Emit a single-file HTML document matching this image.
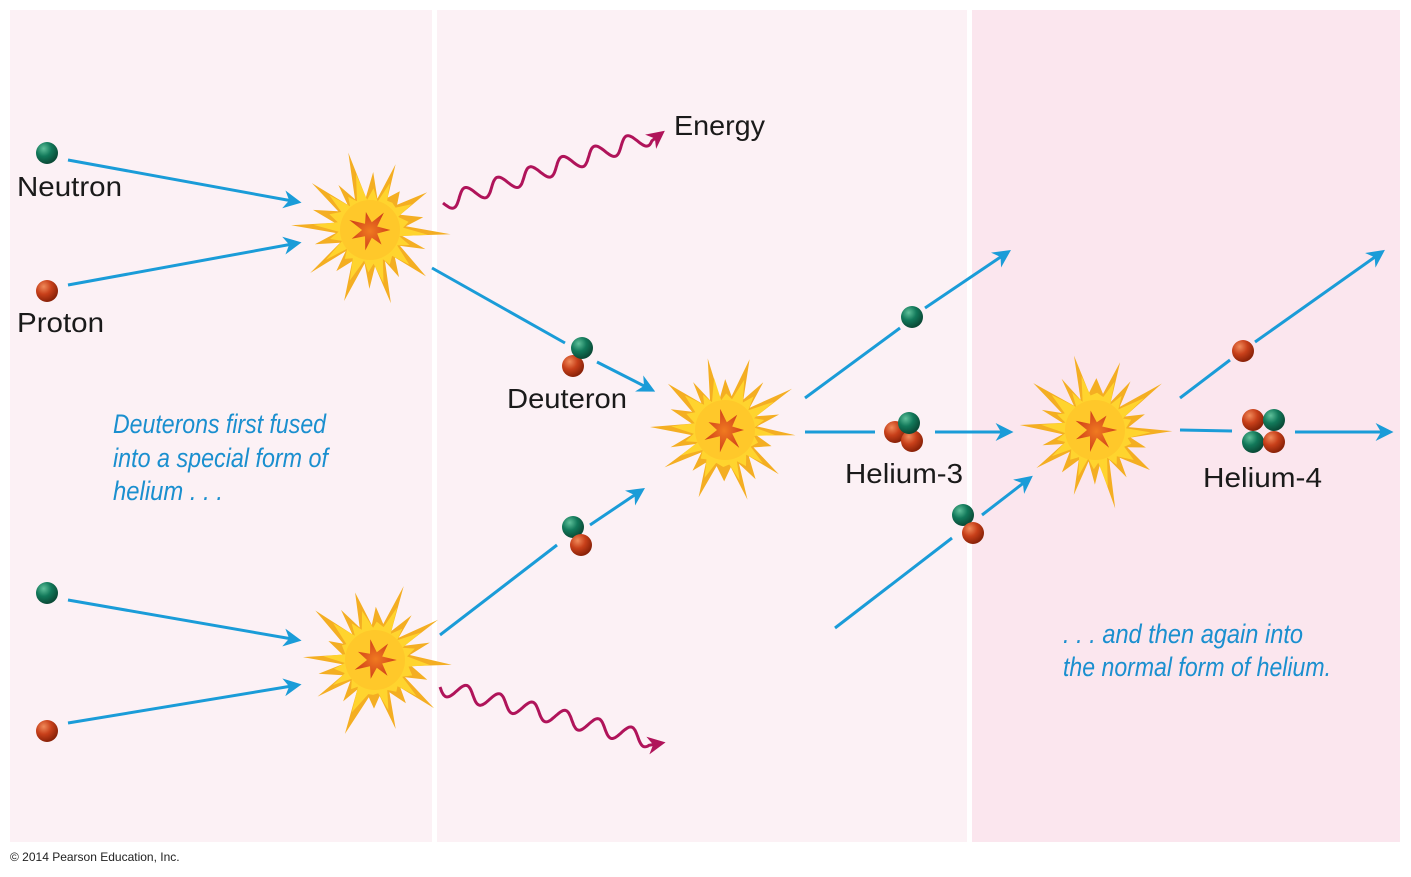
<!DOCTYPE html>
<html><head><meta charset="utf-8"><style>
html,body{margin:0;padding:0;background:#fff}
svg{display:block}
text{font-family:"Liberation Sans",sans-serif}
</style></head><body>
<svg id="s" width="1411" height="877" viewBox="0 0 1411 877" xmlns="http://www.w3.org/2000/svg">
<defs>
<radialGradient id="g" cx="0.35" cy="0.3" r="0.7"><stop offset="0" stop-color="#5fc09a"/><stop offset="0.5" stop-color="#12795a"/><stop offset="1" stop-color="#0a4a36"/></radialGradient>
<radialGradient id="r" cx="0.35" cy="0.3" r="0.7"><stop offset="0" stop-color="#f08a5a"/><stop offset="0.5" stop-color="#c8401a"/><stop offset="1" stop-color="#8a2208"/></radialGradient>
<radialGradient id="st" cx="0.5" cy="0.5" r="0.5"><stop offset="0" stop-color="#f07a20"/><stop offset="1" stop-color="#d0401a"/></radialGradient>
<marker id="a" viewBox="0 0 10 10" refX="8" refY="5" markerWidth="6" markerHeight="6" orient="auto" markerUnits="strokeWidth"><path d="M0,0 L10,5 L0,10 L3,5 z" fill="#1a9cd8"/></marker>
<marker id="m" viewBox="0 0 10 10" refX="8" refY="5" markerWidth="6" markerHeight="6" orient="auto" markerUnits="strokeWidth"><path d="M0,0 L10,5 L0,10 L3,5 z" fill="#b0145a"/></marker>
</defs>
<rect x="10" y="10" width="422" height="832" fill="#fcf1f5"/>
<rect x="437" y="10" width="530" height="832" fill="#fcf1f5"/>
<rect x="972" y="10" width="428" height="832" fill="#fbe6ee"/>
<g id="bursts"></g>
<g stroke="#1a9cd8" stroke-width="3" fill="none">
<line x1="68" y1="160" x2="298" y2="202" marker-end="url(#a)"/>
<line x1="68" y1="285" x2="298" y2="243" marker-end="url(#a)"/>
<line x1="432" y1="268" x2="565" y2="343"/>
<line x1="597" y1="362" x2="652" y2="390" marker-end="url(#a)"/>
<line x1="68" y1="600" x2="298" y2="640" marker-end="url(#a)"/>
<line x1="68" y1="723" x2="298" y2="685" marker-end="url(#a)"/>
<line x1="440" y1="635" x2="557" y2="545"/>
<line x1="590" y1="525" x2="642" y2="490" marker-end="url(#a)"/>
<line x1="805" y1="398" x2="900" y2="328"/>
<line x1="925" y1="308" x2="1008" y2="252" marker-end="url(#a)"/>
<line x1="805" y1="432" x2="875" y2="432"/>
<line x1="935" y1="432" x2="1010" y2="432" marker-end="url(#a)"/>
<line x1="835" y1="628" x2="952" y2="538"/>
<line x1="982" y1="515" x2="1030" y2="478" marker-end="url(#a)"/>
<line x1="1180" y1="398" x2="1230" y2="360"/>
<line x1="1255" y1="342" x2="1382" y2="252" marker-end="url(#a)"/>
<line x1="1180" y1="430" x2="1232" y2="431"/>
<line x1="1295" y1="432" x2="1390" y2="432" marker-end="url(#a)"/>
</g>
<g id="waves" stroke="#b0145a" stroke-width="3" fill="none"></g>
<g>
<circle cx="47" cy="153" r="11" fill="url(#g)"/>
<circle cx="47" cy="291" r="11" fill="url(#r)"/>
<circle cx="47" cy="593" r="11" fill="url(#g)"/>
<circle cx="47" cy="731" r="11" fill="url(#r)"/>
<circle cx="573" cy="366" r="11" fill="url(#r)"/>
<circle cx="582" cy="348" r="11" fill="url(#g)"/>
<circle cx="573" cy="527" r="11" fill="url(#g)"/>
<circle cx="581" cy="545" r="11" fill="url(#r)"/>
<circle cx="912" cy="317" r="11" fill="url(#g)"/>
<circle cx="895" cy="432" r="11" fill="url(#r)"/>
<circle cx="912" cy="441" r="11" fill="url(#r)"/>
<circle cx="909" cy="423" r="11" fill="url(#g)"/>
<circle cx="963" cy="515" r="11" fill="url(#g)"/>
<circle cx="973" cy="533" r="11" fill="url(#r)"/>
<circle cx="1243" cy="351" r="11" fill="url(#r)"/>
<circle cx="1253" cy="420" r="11" fill="url(#r)"/>
<circle cx="1274" cy="420" r="11" fill="url(#g)"/>
<circle cx="1253" cy="442" r="11" fill="url(#g)"/>
<circle cx="1274" cy="442" r="11" fill="url(#r)"/>
</g>
<g font-size="28" fill="#1a1a1a">
<text x="17" y="196" textLength="105" lengthAdjust="spacingAndGlyphs">Neutron</text>
<text x="17" y="332" textLength="87" lengthAdjust="spacingAndGlyphs">Proton</text>
<text x="507" y="408" textLength="120" lengthAdjust="spacingAndGlyphs">Deuteron</text>
<text x="674" y="135" textLength="91" lengthAdjust="spacingAndGlyphs">Energy</text>
<text x="845" y="483" textLength="118" lengthAdjust="spacingAndGlyphs">Helium-3</text>
<text x="1203" y="487" textLength="119" lengthAdjust="spacingAndGlyphs">Helium-4</text>
</g>
<g font-size="27" font-style="italic" fill="#1a8fcf">
<text x="113" y="433" textLength="213" lengthAdjust="spacingAndGlyphs">Deuterons first fused</text>
<text x="113" y="467" textLength="215" lengthAdjust="spacingAndGlyphs">into a special form of</text>
<text x="113" y="500" textLength="110" lengthAdjust="spacingAndGlyphs">helium . . .</text>
<text x="1063" y="643" textLength="240" lengthAdjust="spacingAndGlyphs">. . . and then again into</text>
<text x="1063" y="676" textLength="268" lengthAdjust="spacingAndGlyphs">the normal form of helium.</text>
</g>
<text x="10" y="861" font-size="12" fill="#222">© 2014 Pearson Education, Inc.</text>
</svg>
<script>
(function(){
var NS="http://www.w3.org/2000/svg";
var B=document.getElementById("bursts");
var seed=11;function rnd(){seed=(seed*9301+49297)%233280;return seed/233280;}
function poly(pts,fill){var e=document.createElementNS(NS,"polygon");e.setAttribute("points",pts.join(" "));e.setAttribute("fill",fill);B.appendChild(e);}
function burst(cx,cy){
  var n=20,p=[],q=[],st=[];
  for(var i=0;i<n*2;i++){
    var ang=i/(n*2)*Math.PI*2+rnd()*0.08;
    var rr;
    if(i%2==0){rr=(i%4==0)?68+rnd()*14:48+rnd()*14;}else{rr=32+rnd()*6;}
    p.push((cx+Math.cos(ang)*rr).toFixed(1)+","+(cy+Math.sin(ang)*rr).toFixed(1));
    var r2=(i%2==0)?(rr*0.72):(rr*0.92);
    q.push((cx+Math.cos(ang+0.03)*r2).toFixed(1)+","+(cy+Math.sin(ang+0.03)*r2).toFixed(1));
  }
  poly(p,"#f4ae22");
  poly(q,"#ffd42e");
  var e=document.createElementNS(NS,"circle");e.setAttribute("cx",cx);e.setAttribute("cy",cy);e.setAttribute("r",30);e.setAttribute("fill","#ffc82a");B.appendChild(e);
  for(var j=0;j<14;j++){
    var a=j/14*Math.PI*2, r=(j%2==0)?(18+rnd()*5):8;
    st.push((cx+Math.cos(a)*r).toFixed(1)+","+(cy+Math.sin(a)*r).toFixed(1));
  }
  poly(st,"url(#st)");
}
burst(370,230);burst(375,660);burst(725,430);burst(1095,430);
var W=document.getElementById("waves");
function wave(x1,y1,x2,y2){
  var dx=x2-x1,dy=y2-y1,L=Math.sqrt(dx*dx+dy*dy),ux=dx/L,uy=dy/L,nx=-uy,ny=ux;
  var d="",steps=200,per=34,amp=8;
  for(var i=0;i<=steps;i++){
    var t=i/steps*(L-12),o=amp*Math.sin(t/per*2*Math.PI);
    var x=x1+ux*t+nx*o,y=y1+uy*t+ny*o;
    d+=(i?"L":"M")+x.toFixed(1)+","+y.toFixed(1);
  }
  d+="L"+(x2).toFixed(1)+","+(y2).toFixed(1);
  var e=document.createElementNS(NS,"path");e.setAttribute("d",d);e.setAttribute("marker-end","url(#m)");W.appendChild(e);
}
wave(443,203,662,133);wave(440,687,662,743);
})();
</script>
</body></html>
